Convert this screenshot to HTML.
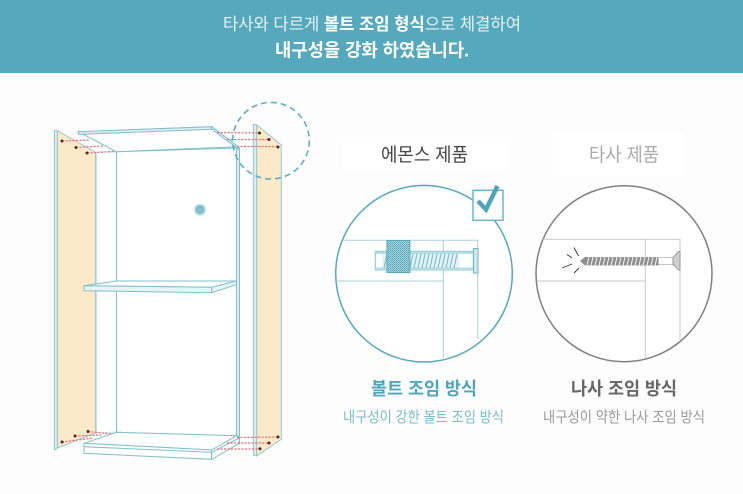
<!DOCTYPE html>
<html lang="ko"><head><meta charset="utf-8"><style>
html,body{margin:0;padding:0;background:#fdfdfd;width:743px;height:494px;overflow:hidden}
svg{display:block}
text{font-family:"Liberation Sans","Noto Sans CJK KR",sans-serif}
</style></head><body>
<svg width="743" height="494" viewBox="0 0 743 494" xmlns="http://www.w3.org/2000/svg">
<defs>
<pattern id="dots" width="2" height="2" patternUnits="userSpaceOnUse"><rect width="2" height="2" fill="#a9d5df"/><rect width="1" height="1" fill="#4f9fb4"/><rect x="1" y="1" width="1" height="1" fill="#6fb6c6"/></pattern>
</defs>
<rect width="743" height="494" fill="#fdfdfd"/>
<rect width="743" height="73" fill="#56a8bc"/>
<text x="223" y="30" font-size="17" fill="#e6f3f6" textLength="298" lengthAdjust="spacingAndGlyphs">타사와 다르게 <tspan font-weight="700" fill="#fff">볼트 조임 형식</tspan>으로 체결하여</text>
<text x="275" y="56.5" font-size="18" font-weight="700" fill="#fff" textLength="194" lengthAdjust="spacingAndGlyphs">내구성을 강화 하였습니다.</text>

<rect x="343" y="138" width="164" height="32" fill="#fff"/>
<rect x="553" y="132" width="130" height="44" fill="#fff"/>
<text x="381" y="161" font-size="19" fill="#444" textLength="87" lengthAdjust="spacingAndGlyphs">에몬스 제품</text>
<text x="589" y="161" font-size="19" fill="#aaa" textLength="70" lengthAdjust="spacingAndGlyphs">타사 제품</text>

<!-- left panel -->
<polygon points="57.3,130.7 95.7,152.3 95.7,433 57.3,448" fill="#fbe9c8" stroke="#7fbfcc" stroke-width=".8"/>
<polygon points="54.3,130.7 57.3,130.7 57.3,448 54.3,450" fill="#dcecef" stroke="#7fbfcc" stroke-width=".8"/>
<!-- cabinet -->
<g fill="#fff" stroke="#7fbfcc" stroke-width="1">
<polygon points="96.5,152 116.5,152 116.5,432 96.5,433" fill="#fff" stroke="#c4e1e8"/>
<polygon points="116.5,151.7 236.7,148 236.7,436 116.5,432.3" fill="#fff"/>
<rect x="236.7" y="148" width="2.8" height="296" fill="#e8f3f6"/>
<polygon points="78.3,131.7 211.7,126.7 238.3,146.7 116.3,151.7" fill="#fff"/>
<polygon points="78.3,131.7 211.7,126.7 211.7,129.3 78.3,134.3" fill="#e4f1f4"/>
<polygon points="211.7,126.7 238.3,146.7 238.3,149 211.7,129.3" fill="#e4f1f4"/>
<polygon points="116.5,281 236.7,281 211.7,287.3 84,285.7" fill="#fff"/>
<polygon points="84,285.7 211.7,287.3 211.7,292.7 84,290.7" fill="#e8f3f6"/>
<polygon points="211.7,287.3 236.7,281 236.7,284.5 211.7,292.7" fill="#e8f3f6"/>
<polygon points="116.7,432.3 236.7,435.7 211.7,450 84,443.3" fill="#fff"/>
<polygon points="84,443.3 211.7,450 211.7,459.3 84,453.3" fill="#fff"/>
<line x1="84" y1="446.7" x2="211.7" y2="452.3"/>
<polygon points="211.7,450 236.7,435.7 239.3,437 239.3,443.3 211.7,459.3" fill="#fff"/>
<line x1="211.7" y1="452.3" x2="239.3" y2="438"/>
</g>
<!-- right panel -->
<polygon points="256.7,125 281.3,145 281.3,439.3 256.7,456" fill="#fbe9c8" stroke="#7fbfcc" stroke-width=".8"/>
<polygon points="253.3,124.3 256.7,125 256.7,456 253.3,455" fill="#dcecef" stroke="#7fbfcc" stroke-width=".8"/>
<!-- red dashed -->
<g stroke="#e4707a" stroke-width="1.2" stroke-dasharray="2.2 1.3" fill="none">
<line x1="62" y1="141" x2="90" y2="140"/><line x1="76" y1="147.5" x2="103" y2="146"/><line x1="87" y1="153" x2="115" y2="151.5"/>
<line x1="217" y1="132.5" x2="260" y2="133"/><line x1="227" y1="139.5" x2="269" y2="139.5"/><line x1="237" y1="146.5" x2="278" y2="146.5"/>
<line x1="62" y1="442" x2="93" y2="438"/><line x1="75" y1="436" x2="103" y2="435"/><line x1="88" y1="431.5" x2="112" y2="434"/>
<line x1="237" y1="437.5" x2="278" y2="437"/><line x1="227" y1="443" x2="269" y2="443"/><line x1="217" y1="449" x2="260" y2="449"/>
</g>
<g fill="#4a2a2a">
<circle cx="62" cy="141" r="1.5"/><circle cx="76" cy="147.5" r="1.5"/><circle cx="87" cy="153" r="1.5"/>
<circle cx="259.5" cy="133" r="1.5"/><circle cx="269" cy="139.5" r="1.5"/><circle cx="278" cy="147" r="1.5"/>
<circle cx="62" cy="442" r="1.5"/><circle cx="75" cy="436" r="1.5"/><circle cx="88" cy="431.5" r="1.5"/>
<circle cx="278" cy="437" r="1.5"/><circle cx="269" cy="443" r="1.5"/><circle cx="260" cy="448.7" r="1.5"/>
</g>
<circle cx="200" cy="209.7" r="6.5" fill="#d9ecf0"/><circle cx="200" cy="209.7" r="4.8" fill="#86c0cf"/>
<circle cx="271" cy="140.7" r="38.3" fill="none" stroke="#5aaec1" stroke-width="1.6" stroke-dasharray="6 4"/>

<!-- bolt circle -->
<circle cx="424" cy="273.7" r="88.3" fill="#fff" stroke="#56a8bc" stroke-width="1.5"/>
<g stroke="#a5d3dc" stroke-width="1" fill="none">
<path d="M343,240.3H477.7V339M443.3,240.3V358M337,281H443.3"/>
<rect x="375.3" y="251.3" width="98" height="18.7" fill="#fff" stroke="#86c3d0"/>
<rect x="382.3" y="253.5" width="77" height="15" fill="#e3f1f4" stroke="none"/>
</g>
<rect x="375.3" y="251.5" width="98" height="2.5" fill="#b7dce4"/>
<rect x="375.3" y="267.5" width="98" height="2.5" fill="#b7dce4"/>
<g stroke="#7cbecc" stroke-width="1.1">
<path d="M384,268L387,254M410,268L413,254M414,268L417,254M418,268L421,254M422,268L425,254M426,268L429,254M430,268L433,254M434,268L437,254M438,268L441,254M442,268L445,254M446,268L449,254M450,268L453,254M454,268L457,254"/>
</g>
<rect x="386.9" y="240.5" width="23" height="32" fill="url(#dots)" stroke="#56a8bc"/>
<path d="M473.5,248.5h4.5v24.5h-4.5z" fill="#cfe6eb" stroke="#6db6c6"/>
<rect x="473" y="190.3" width="30" height="30" fill="#fff" stroke="#6db6c6" stroke-width="1.5"/>
<path d="M478,201L486,209.5L497.5,186" fill="none" stroke="#4ea4b9" stroke-width="4.5"/>

<!-- screw circle -->
<circle cx="624" cy="273.7" r="88" fill="#fff" stroke="#808080" stroke-width="1.5"/>
<g stroke="#c9c9c9" stroke-width="1" fill="none">
<path d="M543,239.3H680V340M645.3,239.3V358M537,281H645.3"/>
</g>
<path d="M658,257.5H673V264.5H658" fill="#fff" stroke="#c4c4c4"/>
<path d="M673,257.5C676,255 677,252 678.5,251.5H680V270H678.5C677,269 676,266.5 673,264.5Z" fill="#d0d0d0" stroke="#8a8a8a" stroke-width=".8"/>
<polygon points="580,261 585,257 658.5,257 658.5,265.5 585,265.5" fill="#8f8f8f"/>
<path d="M587,265.5l2,-8.5M591,265.5l2,-8.5M595,265.5l2,-8.5M599,265.5l2,-8.5M603,265.5l2,-8.5M607,265.5l2,-8.5M611,265.5l2,-8.5M615,265.5l2,-8.5M619,265.5l2,-8.5M623,265.5l2,-8.5M627,265.5l2,-8.5M631,265.5l2,-8.5M635,265.5l2,-8.5M639,265.5l2,-8.5M643,265.5l2,-8.5M647,265.5l2,-8.5M651,265.5l2,-8.5M655,265.5l2,-8.5" stroke="#eeeeee" stroke-width="1.1"/>
<g stroke="#333" stroke-width=".9">
<line x1="574" y1="247.5" x2="578.5" y2="256"/><line x1="567" y1="254.5" x2="572" y2="258"/><line x1="562" y1="268" x2="572" y2="264"/><line x1="574" y1="273" x2="579" y2="268"/>
</g>

<text x="371" y="395" font-size="18" font-weight="700" fill="#4fa5ba" textLength="106" lengthAdjust="spacingAndGlyphs">볼트 조임 방식</text>
<text x="571" y="395" font-size="18" font-weight="700" fill="#666" textLength="106" lengthAdjust="spacingAndGlyphs">나사 조임 방식</text>
<text x="343" y="422" font-size="15" fill="#7dbccb" textLength="161" lengthAdjust="spacingAndGlyphs">내구성이 강한 볼트 조임 방식</text>
<text x="543" y="422" font-size="15" fill="#999" textLength="162" lengthAdjust="spacingAndGlyphs">내구성이 약한 나사 조임 방식</text>
</svg>
</body></html>
